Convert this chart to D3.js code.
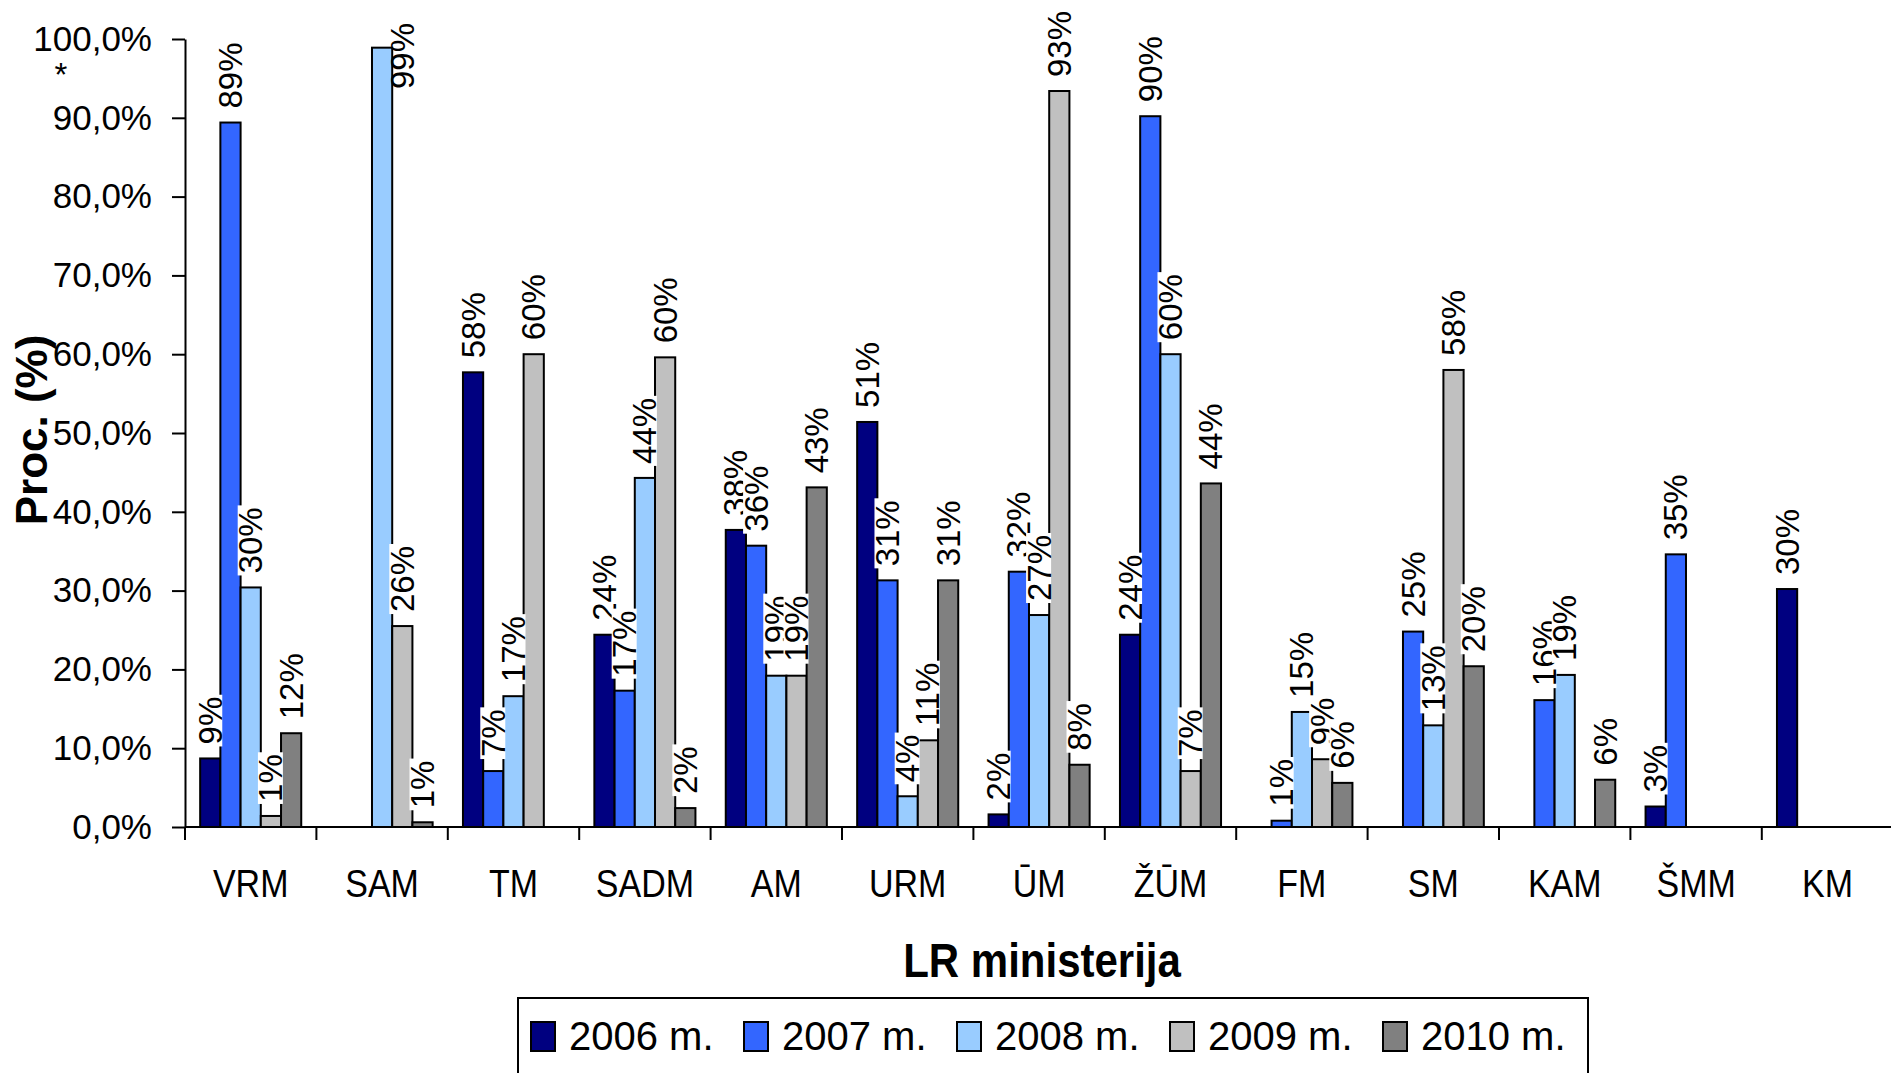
<!DOCTYPE html>
<html>
<head>
<meta charset="utf-8">
<script src="https://cdn.jsdelivr.net/npm/d3@7"></script>
<style>
body { margin: 0; background: #fff; }
text { font-family: "Liberation Sans", Arial, sans-serif; fill: #000; }
</style>
</head>
<body>
<div id="viz"></div>
<script>
'use strict';

// ministries on the x axis
const categories = ["VRM", "SAM", "TM", "SADM", "AM", "URM", "ŪM", "ŽŪM", "FM", "SM", "KAM", "ŠMM", "KM"];
const years = ["2006 m.", "2007 m.", "2008 m.", "2009 m.", "2010 m."];

// percent per ministry, null = no bar
const v2006 = [8.7, null, 57.7, 24.4, 37.7, 51.4, 1.6, 24.4, null, null, null, 2.6, 30.2];
const v2007 = [89.4, null, 7.1, 17.3, 35.7, 31.3, 32.4, 90.2, 0.8, 24.8, 16.1, 34.6, null];
const v2008 = [30.4, 98.9, 16.6, 44.3, 19.2, 3.9, 26.9, 60.0, 14.6, 12.9, 19.3, null, null];
const v2009 = [1.4, 25.5, 60.0, 59.6, 19.2, 11.0, 93.4, 7.1, 8.6, 58.0, null, null, null];
const v2010 = [11.9, 0.6, null, 2.4, 43.1, 31.3, 7.9, 43.6, 5.6, 20.4, 6.0, null, null];

const yTicks = [0, 10, 20, 30, 40, 50, 60, 70, 80, 90, 100];
const colors = ["#000080", "#3366FF", "#99CCFF", "#C0C0C0", "#808080"];

const series = [v2006, v2007, v2008, v2009, v2010];

const width = 1891;
const height = 1073;

const svg = d3.select("#viz")
    .append("svg")
    .attr("width", width)
    .attr("height", height);

svg.append("rect").attr("width", width).attr("height", height).attr("fill", "#fff");

const plotLeft = 185;
const plotTop = 39;
const plotBottom = 827;
const catStep = 131.4;

const x0 = d3.scaleBand()
    .domain(categories)
    .range([plotLeft, plotLeft + catStep * categories.length]);

const x1 = d3.scaleBand()
    .domain(years)
    .range([0, x0.bandwidth()])
    .paddingOuter(0.75);

const y = d3.scaleLinear()
    .domain([0, 100])
    .range([plotBottom, plotTop]);

// bars
const bars = svg.append("g");
series.forEach((vals, i) => {
    bars.selectAll(null)
        .data(vals.map((v, j) => ({ v: v, c: categories[j] })).filter(d => d.v != null))
        .enter()
        .append("rect")
        .attr("x", d => x0(d.c) + x1(years[i]))
        .attr("y", d => y(d.v))
        .attr("width", x1.bandwidth())
        .attr("height", d => y(0) - y(d.v))
        .attr("fill", colors[i])
        .attr("stroke", "#000")
        .attr("stroke-width", 2);
});

// y axis
const locale = d3.formatLocale({ decimal: ",", thousands: " ", grouping: [3], currency: ["", ""] });
const yFmt = locale.format(".1f");

const yAxis = svg.append("g")
    .attr("transform", `translate(${plotLeft},0)`)
    .call(d3.axisLeft(y)
        .tickValues(yTicks)
        .tickSize(13)
        .tickSizeOuter(0)
        .tickPadding(20)
        .tickFormat(d => yFmt(d) + "%"));
yAxis.select(".domain").attr("stroke", "#000").attr("stroke-width", 2);
yAxis.selectAll(".tick line").attr("stroke", "#000").attr("stroke-width", 2);
yAxis.selectAll(".tick text")
    .attr("font-size", 35)
    .attr("font-family", "'Liberation Sans', Arial, sans-serif")
    .attr("fill", "#000");

// x axis line + category boundary ticks
svg.append("line")
    .attr("x1", plotLeft).attr("x2", width)
    .attr("y1", y(0)).attr("y2", y(0))
    .attr("stroke", "#000").attr("stroke-width", 2);

svg.append("g").selectAll("line")
    .data(categories)
    .enter()
    .append("line")
    .attr("x1", d => x0(d)).attr("x2", d => x0(d))
    .attr("y1", y(0)).attr("y2", y(0) + 13)
    .attr("stroke", "#000").attr("stroke-width", 2);

svg.append("g").selectAll("text")
    .data(categories)
    .enter()
    .append("text")
    .attr("transform", d => `translate(${x0(d) + x0.bandwidth() / 2},897) scale(1,1.12)`)
    .attr("text-anchor", "middle")
    .attr("font-size", 34)
    .text(d => d);

// data labels, drawn series by series so later boxes cover earlier ones
const labelGap = 12;
const labelTopLimit = 8;
const movedLabelTop = 21;
const labels = svg.append("g");
series.forEach((vals, i) => {
    const g = labels.selectAll(null)
        .data(vals.map((v, j) => ({ v: v, c: categories[j] })).filter(d => d.v != null))
        .enter()
        .append("g");
    const box = g.append("rect")
        .attr("fill", "#fff")
        .attr("y", -13)
        .attr("height", 25)
        .attr("x", 0);
    const txt = g.append("text")
        .attr("x", 2)
        .attr("dy", "0.35em")
        .attr("font-size", 33)
        .text(d => Math.round(d.v) + "%");
    g.each(function(d, k) {
        const len = txt.nodes()[k].getComputedTextLength() + 4;
        let cx = x0(d.c) + x1(years[i]) + x1.bandwidth() / 2;
        let by = y(d.v) - labelGap;
        const sel = d3.select(this);
        if (by - len < labelTopLimit) {
            // no room above: push it down and to the right, like the original
            by = movedLabelTop + len;
            cx += x1.bandwidth();
            sel.select("rect").remove();
        } else {
            sel.select("rect").attr("width", len);
        }
        sel.attr("transform", `translate(${cx},${by}) rotate(-90)`);
    });
});

// axis titles
svg.append("text")
    .attr("transform", "translate(1042,977) scale(1,1.13)")
    .attr("text-anchor", "middle")
    .attr("font-size", 42)
    .attr("font-weight", "bold")
    .text("LR ministerija");

svg.append("text")
    .attr("transform", "translate(47,430) rotate(-90)")
    .attr("text-anchor", "middle")
    .attr("font-size", 44)
    .attr("font-weight", "bold")
    .text("Proc. (%)");

svg.append("text")
    .attr("x", 61)
    .attr("y", 86)
    .attr("text-anchor", "middle")
    .attr("font-size", 33)
    .text("*");

// legend
const legend = svg.append("g");
legend.append("rect")
    .attr("x", 518).attr("y", 998)
    .attr("width", 1070).attr("height", 120)
    .attr("fill", "#fff")
    .attr("stroke", "#000").attr("stroke-width", 2);

const legendStep = 213;
const items = legend.selectAll("g.item")
    .data(years)
    .enter()
    .append("g")
    .attr("class", "item")
    .attr("transform", (d, i) => `translate(${531 + i * legendStep},0)`);
items.append("rect")
    .attr("y", 1022)
    .attr("width", 24).attr("height", 29)
    .attr("fill", (d, i) => colors[i])
    .attr("stroke", "#000").attr("stroke-width", 2);
items.append("text")
    .attr("x", 38)
    .attr("y", 1050)
    .attr("font-size", 40)
    .text(d => d);
</script>
</body>
</html>
